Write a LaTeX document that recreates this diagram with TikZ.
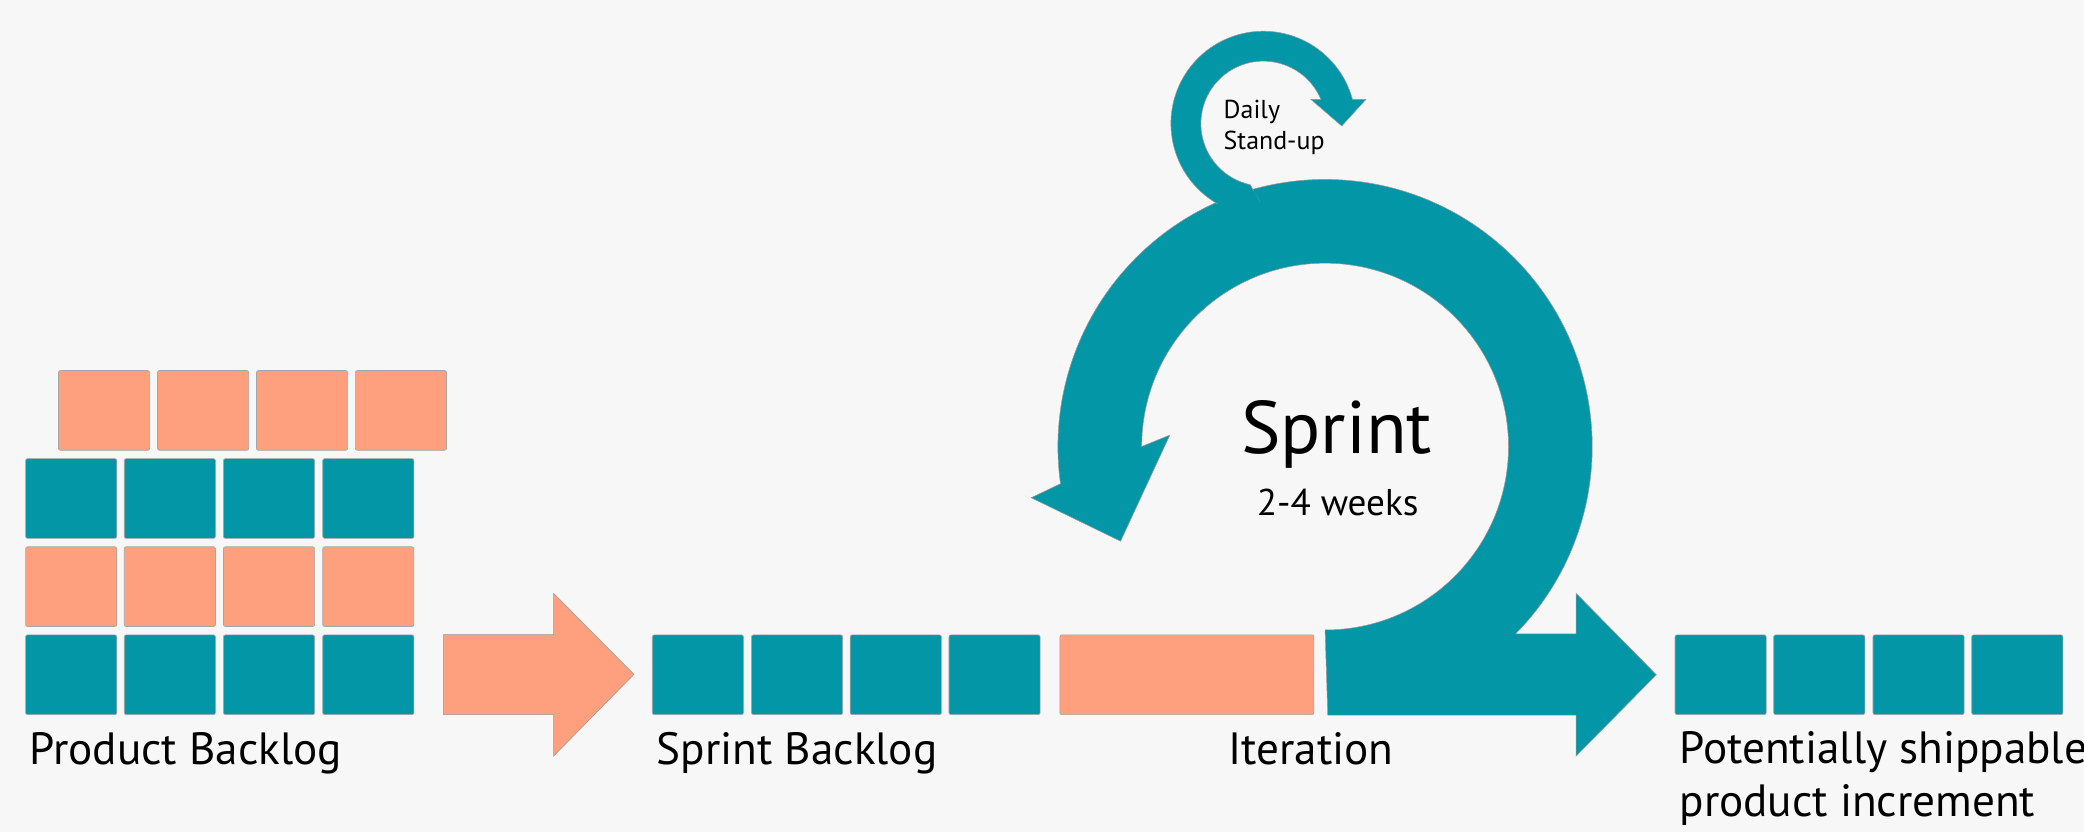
\documentclass[tikz,border=0pt]{standalone}
\usepackage{fontspec}
\setmainfont{PT Sans}
\definecolor{tealc}{RGB}{3,150,166}
\definecolor{salm}{RGB}{254,159,126}
\definecolor{bgc}{RGB}{247,247,247}
\tikzset{
  card/.style={draw=black!35, line width=0.5pt, rounded corners=1.5pt,
    minimum width=68.6pt, minimum height=60pt, inner sep=0pt, outer sep=0pt},
  tealcard/.style={card, fill=tealc},
  salmcard/.style={card, fill=salm},
  lbl/.style={font=\fontsize{34}{40}\selectfont, anchor=base west, inner sep=0pt},
  edge/.style={draw=black!40, line width=0.4pt}
}
\begin{document}
\begin{tikzpicture}[x=1pt,y=1pt]
\useasboundingbox (0,0) rectangle (1568,626);
\fill[bgc] (0,0) rectangle (1568,626);

% Product backlog
\foreach \x [count=\i] in {78.3,152.85,227.25,301.65}
  \node[salmcard] (pbA\i) at (\x,317.2) {};
\foreach \x [count=\i] in {53.55,127.8,202.4,277.1}{
  \node[tealcard] (pbB\i) at (\x,250.9) {};
  \node[salmcard] (pbC\i) at (\x,184.6) {};
  \node[tealcard] (pbD\i) at (\x,118.3) {};
}
\node[lbl] (pbl) at (22,50.6) {Product Backlog};

% orange arrow
\filldraw[salm, edge] (333.6,88.3) -- (416.5,88.3) -- (416.5,57.1) -- (477,118.6)
  -- (416.5,179.6) -- (416.5,148.5) -- (333.6,148.5) -- cycle;

% Sprint backlog
\foreach \x [count=\i] in {525.1,599.7,674,748.3}
  \node[tealcard] (sb\i) at (\x,118.3) {};
\node[lbl] (sbl) at (494,51.1) {Sprint Backlog};

% Iteration
\node[salmcard, minimum width=191.1pt] (it) at (893,118.3) {};
\node[lbl] (itl) at (924,51.1) {Iteration};

% big sprint loop
\filldraw[tealc, edge] (859,290) arc[start angle=180, end angle=-90, radius=138]
  -- (999,88) -- (1185.8,88) -- (1185.8,57.1) -- (1246.2,118.3) -- (1185.8,179.6)
  -- (1185.8,149) -- (1140.2,149) arc[start angle=-44.55, end angle=188, radius=201]
  -- (775.9,251.5) -- (843.1,218.8) -- (880.1,298.6) -- cycle;

% daily stand-up loop
\filldraw[tealc, edge] (1017.55,551.3) arc[start angle=15.27, end angle=242, radius=69.5]
  -- (948,474) -- (940.6,487.05) arc[start angle=257.8, end angle=22.91, radius=47]
  -- (986.2,551.3) -- (1009.5,531.2) -- (1027.8,551.3) -- cycle;
% hide the seam where the two loops meet
\fill[tealc] (914,468) -- (950,470) -- (943.5,482.5) -- (920,478) -- cycle;

\node[inner sep=0pt, anchor=base] (spr) at (1005.7,284.6) {\fontsize{56}{60}\selectfont Sprint};
\node[inner sep=0pt, anchor=base] (wks) at (1006.5,237.9) {\fontsize{28}{32}\selectfont 2-4 weeks};
\node[inner sep=0pt, anchor=base west] (dly) at (920.5,537.2) {\fontsize{19.5}{24}\selectfont Daily};
\node[inner sep=0pt, anchor=base west] (stu) at (920.5,513.4) {\fontsize{19.5}{24}\selectfont Stand-up};

% increment
\foreach \x [count=\i] in {1294.6,1368.8,1443.5,1517.8}
  \node[tealcard] (pi\i) at (\x,118.3) {};
\node[lbl] (pil1) at (1263.5,51.6) {Potentially shippable};
\node[lbl] (pil2) at (1263.5,11.5) {product increment};
\end{tikzpicture}
\end{document}
